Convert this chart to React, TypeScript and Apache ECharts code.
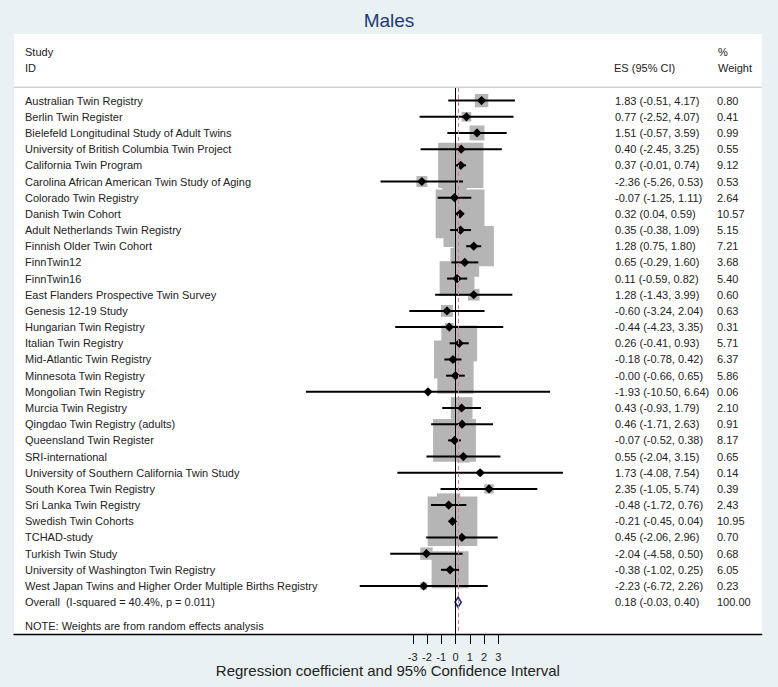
import React, { useEffect, useRef } from "react";
import * as echarts from "echarts";

const studies = [
  "Australian Twin Registry",
  "Berlin Twin Register",
  "Bielefeld Longitudinal Study of Adult Twins",
  "University of British Columbia Twin Project",
  "California Twin Program",
  "Carolina African American Twin Study of Aging",
  "Colorado Twin Registry",
  "Danish Twin Cohort",
  "Adult Netherlands Twin Registry",
  "Finnish Older Twin Cohort",
  "FinnTwin12",
  "FinnTwin16",
  "East Flanders Prospective Twin Survey",
  "Genesis 12-19 Study",
  "Hungarian Twin Registry",
  "Italian Twin Registry",
  "Mid-Atlantic Twin Registry",
  "Minnesota Twin Registry",
  "Mongolian Twin Registry",
  "Murcia Twin Registry",
  "Qingdao Twin Registry (adults)",
  "Queensland Twin Register",
  "SRI-international",
  "University of Southern California Twin Study",
  "South Korea Twin Registry",
  "Sri Lanka Twin Registry",
  "Swedish Twin Cohorts",
  "TCHAD-study",
  "Turkish Twin Study",
  "University of Washington Twin Registry",
  "West Japan Twins and Higher Order Multiple Births Registry",
];

const es = [
  1.83, 0.77, 1.51, 0.4, 0.37, -2.36, -0.07, 0.32, 0.35, 1.28, 0.65, 0.11, 1.28, -0.6, -0.44, 0.26,
  -0.18, -0.0, -1.93, 0.43, 0.46, -0.07, 0.55, 1.73, 2.35, -0.48, -0.21, 0.45, -2.04, -0.38, -2.23,
];
const lower = [
  -0.51, -2.52, -0.57, -2.45, -0.01, -5.26, -1.25, 0.04, -0.38, 0.75, -0.29, -0.59, -1.43, -3.24, -4.23,
  -0.41, -0.78, -0.66, -10.5, -0.93, -1.71, -0.52, -2.04, -4.08, -1.05, -1.72, -0.45, -2.06, -4.58, -1.02,
  -6.72,
];
const upper = [
  4.17, 4.07, 3.59, 3.25, 0.74, 0.53, 1.11, 0.59, 1.09, 1.8, 1.6, 0.82, 3.99, 2.04, 3.35, 0.93, 0.42, 0.65,
  6.64, 1.79, 2.63, 0.38, 3.15, 7.54, 5.74, 0.76, 0.04, 2.96, 0.5, 0.25, 2.26,
];
const weights = [
  0.8, 0.41, 0.99, 0.55, 9.12, 0.53, 2.64, 10.57, 5.15, 7.21, 3.68, 5.4, 0.6, 0.63, 0.31, 5.71, 6.37, 5.86,
  0.06, 2.1, 0.91, 8.17, 0.65, 0.14, 0.39, 2.43, 10.95, 0.7, 0.68, 6.05, 0.23,
];

const overallLabel = "Overall  (I-squared = 40.4%, p = 0.011)";
const overallEs = 0.18;
const overallLower = -0.03;
const overallUpper = 0.4;
const overallWeight = 100.0;

const xTicks = [-3, -2, -1, 0, 1, 2, 3];

const title = "Males";
const axisTitle = "Regression coefficient and 95% Confidence Interval";
const noteText = "NOTE: Weights are from random effects analysis";

const FONT = "Liberation Sans, Arial, sans-serif";
const TEXT = "#222222";

const fmt = (v: number) => (Object.is(v, -0) ? "-0.00" : v.toFixed(2));
const ciText = (e: number, l: number, u: number) => `${fmt(e)} (${fmt(l)}, ${fmt(u)})`;

export default function App() {
  const ref = useRef<HTMLDivElement>(null);

  useEffect(() => {
    if (!ref.current) return;
    const chart = echarts.init(ref.current, undefined, { renderer: "svg" });

    const panelL = 14;
    const panelR = 761.7;
    const panelT = 34;
    const plotT = 88;
    const plotB = 634;
    const x0 = 455.5;
    const scale = 14.25;
    const rowY0 = 100.6;
    const rowStep = 16.18;

    const xMin = (panelL - x0) / scale;
    const xMax = (panelR - x0) / scale;
    const yMin = (plotT - rowY0) / rowStep;
    const yMax = (plotB - rowY0) / rowStep;

    const rows = studies.map((s, i) => [i, es[i], lower[i], upper[i], weights[i]]);
    const overallIdx = studies.length;
    const textRows = studies
      .map((s, i) => ({ value: [i], label: s, ci: ciText(es[i], lower[i], upper[i]), w: weights[i].toFixed(2) }))
      .concat([
        {
          value: [overallIdx],
          label: overallLabel,
          ci: ciText(overallEs, overallLower, overallUpper),
          w: overallWeight.toFixed(2),
        },
      ]);

    const option: any = {
      animation: false,
      backgroundColor: "#e9f1f3",
      title: {
        text: title,
        left: "center",
        top: 6,
        textStyle: { fontFamily: FONT, fontSize: 19, fontWeight: "normal", color: "#1f3a73" },
      },
      graphic: [
        {
          type: "rect",
          z: -10,
          shape: { x: panelL, y: panelT, width: panelR - panelL, height: plotB - panelT },
          style: { fill: "#ffffff" },
          silent: true,
        },
        {
          type: "line",
          z: -5,
          shape: { x1: panelL, y1: 87.3, x2: panelR, y2: 87.3 },
          style: { stroke: "#d2d2d2", lineWidth: 1.5 },
          silent: true,
        },
        { type: "text", x: 25, y: 52, style: { text: "Study", font: `11px ${FONT}`, fill: TEXT, verticalAlign: "middle" } },
        { type: "text", x: 25, y: 68, style: { text: "ID", font: `11px ${FONT}`, fill: TEXT, verticalAlign: "middle" } },
        { type: "text", x: 614, y: 68, style: { text: "ES (95% CI)", font: `11px ${FONT}`, fill: TEXT, verticalAlign: "middle" } },
        { type: "text", x: 718, y: 52, style: { text: "%", font: `11px ${FONT}`, fill: TEXT, verticalAlign: "middle" } },
        { type: "text", x: 718, y: 68, style: { text: "Weight", font: `11px ${FONT}`, fill: TEXT, verticalAlign: "middle" } },
        {
          type: "text",
          x: 25,
          y: rowY0 + rowStep * 32.5,
          style: { text: noteText, font: `11px ${FONT}`, fill: TEXT, verticalAlign: "middle" },
        },
      ],
      grid: [
        { left: panelL, top: plotT, width: panelR - panelL, height: plotB - plotT },
        { left: x0 - 3 * scale, top: plotT, width: 6 * scale, height: plotB - plotT },
      ],
      xAxis: [
        {
          type: "value",
          gridIndex: 0,
          min: xMin,
          max: xMax,
          axisLine: { show: true, onZero: false, lineStyle: { color: "#000", width: 1.3 } },
          axisTick: { show: false },
          axisLabel: { show: false },
          splitLine: { show: false },
          name: axisTitle,
          nameLocation: "middle",
          nameGap: 29,
          nameTextStyle: { fontFamily: FONT, fontSize: 15, color: TEXT },
        },
        {
          type: "value",
          gridIndex: 1,
          min: xTicks[0],
          max: xTicks[xTicks.length - 1],
          interval: 1,
          axisLine: { show: false, onZero: false },
          axisTick: { show: true, length: 10, lineStyle: { color: "#000", width: 1 } },
          axisLabel: { show: true, margin: 17, fontFamily: FONT, fontSize: 11, color: TEXT },
          splitLine: { show: false },
        },
      ],
      yAxis: [
        { type: "value", gridIndex: 0, min: yMin, max: yMax, inverse: true, show: false },
        { type: "value", gridIndex: 1, min: 0, max: 1, show: false },
      ],
      series: [
        {
          type: "custom",
          name: "ref",
          xAxisIndex: 0,
          yAxisIndex: 0,
          z: 1,
          data: [],
          renderItem: () => null,
          markLine: {
            silent: true,
            symbol: "none",
            label: { show: false },
            data: [
              { xAxis: 0, lineStyle: { color: "#000", width: 1, type: "solid" } },
              { xAxis: overallEs, lineStyle: { color: "#d9807c", width: 1, type: [4, 3] } },
            ],
          },
        },
        {
          type: "custom",
          name: "boxes",
          xAxisIndex: 0,
          yAxisIndex: 0,
          z: 2,
          data: rows,
          renderItem: (params: any, api: any) => {
            const c = api.coord([api.value(1), api.value(0)]);
            const side = 15 * Math.sqrt(api.value(4));
            return {
              type: "rect",
              shape: { x: c[0] - side / 2, y: c[1] - side / 2, width: side, height: side },
              style: { fill: "#b5b5b5" },
            };
          },
        },
        {
          type: "custom",
          name: "ci",
          xAxisIndex: 0,
          yAxisIndex: 0,
          z: 3,
          data: rows,
          renderItem: (params: any, api: any) => {
            const y = api.value(0);
            const c = api.coord([api.value(1), y]);
            const l = api.coord([api.value(2), y]);
            const u = api.coord([api.value(3), y]);
            const d = 4.6;
            return {
              type: "group",
              children: [
                {
                  type: "line",
                  shape: { x1: l[0], y1: l[1], x2: u[0], y2: u[1] },
                  style: { stroke: "#000", lineWidth: 2 },
                },
                {
                  type: "polygon",
                  shape: {
                    points: [
                      [c[0] - d, c[1]],
                      [c[0], c[1] - d],
                      [c[0] + d, c[1]],
                      [c[0], c[1] + d],
                    ],
                  },
                  style: { fill: "#000" },
                },
              ],
            };
          },
        },
        {
          type: "custom",
          name: "overall",
          xAxisIndex: 0,
          yAxisIndex: 0,
          z: 4,
          data: [[overallIdx, overallEs, overallLower, overallUpper]],
          renderItem: (params: any, api: any) => {
            const y = api.value(0);
            const c = api.coord([api.value(1), y]);
            const l = api.coord([api.value(2), y]);
            const u = api.coord([api.value(3), y]);
            return {
              type: "polygon",
              shape: {
                points: [
                  [l[0], c[1]],
                  [c[0], c[1] - 5],
                  [u[0], c[1]],
                  [c[0], c[1] + 5],
                ],
              },
              style: { fill: "#ffffff", stroke: "#1c2a7a", lineWidth: 1.6 },
            };
          },
        },
        {
          type: "custom",
          name: "texts",
          xAxisIndex: 0,
          yAxisIndex: 0,
          z: 5,
          data: textRows,
          renderItem: (params: any, api: any) => {
            const idx = api.value(0);
            const r = textRows[params.dataIndex];
            const c = api.coord([0, idx]);
            const mk = (x: number, t: string) => ({
              type: "text",
              x,
              y: c[1],
              style: { text: t, font: `11px ${FONT}`, fill: TEXT, verticalAlign: "middle", align: "left" },
            });
            return { type: "group", children: [mk(25, r.label), mk(615, r.ci), mk(717, r.w)] };
          },
        },
      ],
    };

    chart.setOption(option);
    return () => chart.dispose();
  }, []);

  return <div ref={ref} style={{ position: "absolute", left: 0, top: 0, width: 778, height: 687 }} />;
}
